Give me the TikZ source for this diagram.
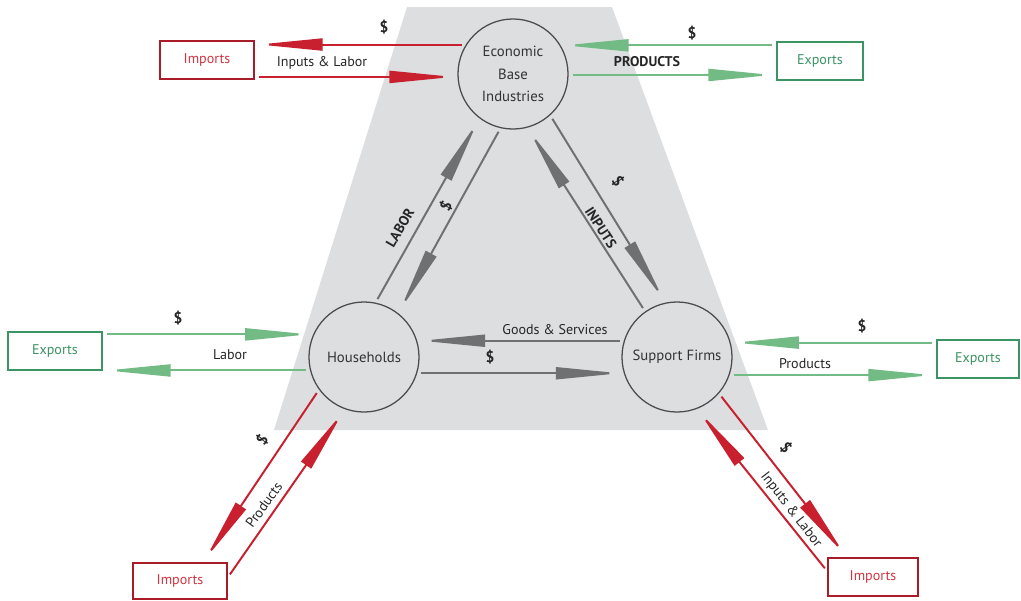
\documentclass[tikz,border=0pt]{standalone}
\usepackage{fontspec}
\setmainfont{PT Sans}
\usetikzlibrary{arrows.meta}

\definecolor{flowred}{HTML}{C8202F}
\definecolor{flowgreen}{HTML}{72BB84}
\definecolor{boxgreen}{HTML}{3C9464}
\definecolor{flowgray}{HTML}{6F7072}
\definecolor{basegray}{HTML}{DCDEE0}

\tikzstyle{hub} = [circle, draw=black!70, line width=0.9pt, minimum size=2.75cm, inner sep=0pt, align=center, text=black!80, font=\fontsize{10.5}{16}\selectfont]
\tikzstyle{box} = [rectangle, fill=white, line width=0.9pt, minimum width=2.35cm, minimum height=0.95cm, inner sep=0pt]
\tikzstyle{redbox} = [box, draw=flowred!85!black, text=flowred!90]
\tikzstyle{greenbox} = [box, draw=boxgreen, text=boxgreen]
\tikzstyle{flow} = [line width=1.4pt, shorten >=0.1cm, shorten <=0.1cm, -{Triangle[length=1.6cm,width=0.3cm]}]
\tikzstyle{redflow} = [flow, color=flowred]
\tikzstyle{greenflow} = [flow, color=flowgreen]
\tikzstyle{grayflow} = [flow, color=flowgray]
\tikzstyle{lbl} = [text=black!85, inner sep=1pt]
\tikzstyle{dollar} = [lbl, font=\fontsize{11}{12}\selectfont\bfseries]

\begin{document}
\begin{tikzpicture}[x=0.025cm, y=-0.025cm, font=\fontsize{10}{12}\selectfont]
      \useasboundingbox (0,0) rectangle (1021,600);
      \fill[basegray] (407,7) -- (612,7) -- (768,430) -- (274,430) -- cycle;

      \node[hub] (ebi) at (513,74) {Economic\\Base\\Industries};
      \node[hub] (hh) at (364,357) {Households};
      \node[hub] (sf) at (677,357) {Support Firms};

      \node[redbox] (imtl) at (207,60) {Imports};
      \node[greenbox, minimum width=2.15cm] (extr) at (820,61) {Exports};
      \node[greenbox] (exl) at (55,351) {Exports};
      \node[greenbox, minimum width=2.05cm] (exr) at (978,359) {Exports};
      \node[redbox, minimum height=0.9cm] (imbl) at (180,581) {Imports};
      \node[redbox, minimum width=2.25cm] (imbr) at (873,577) {Imports};

      % economic base and the outside
      \draw[redflow] (ebi.148) -- (ebi.148 -| imtl.east);
      \draw[redflow] (imtl.east |- ebi.183) -- (ebi.183);
      \draw[greenflow] (ebi.31 -| extr.west) -- (ebi.31);
      \draw[greenflow] (ebi.-1) -- (ebi.-1 -| extr.west);
      \node[dollar] (d1) at (384,27) {\$};
      \node[lbl] (t1) at (322,63) {Inputs \& Labor};
      \node[dollar] (d2) at (692,33) {\$};
      \node[lbl, font=\fontsize{10}{12}\selectfont\bfseries] (t2) at (647,62) {PRODUCTS};

      % households and support firms
      \draw[greenflow] (exl.east |- hh.156) -- (hh.156);
      \draw[greenflow] (hh.194) -- (hh.194 -| exl.east);
      \draw[grayflow] (sf.163) -- (hh.17);
      \draw[grayflow] (hh.-17) -- (sf.197);
      \draw[greenflow] (exr.west |- sf.15) -- (sf.15);
      \draw[greenflow] (sf.-19) -- (sf.-19 -| exr.west);
      \node[dollar] (d3) at (178,318) {\$};
      \node[lbl] (t3) at (230,355) {Labor};
      \node[lbl] (t4) at (555,330) {Goods \& Services};
      \node[dollar] (d4) at (490,357) {\$};
      \node[dollar] (d5) at (862,326) {\$};
      \node[lbl] (t5) at (805,364) {Products};

      % triangle
      \draw[grayflow] (hh.78) -- (ebi.233);
      \draw[grayflow] (ebi.257) -- (hh.52);
      \draw[grayflow] (sf.125) -- (ebi.285);
      \draw[grayflow] (ebi.312) -- (sf.102);
      \node[lbl, rotate=60, font=\fontsize{10}{12}\selectfont\bfseries] (t6) at (400,228) {LABOR};
      \node[dollar, rotate=60] (d6) at (446,206) {\$};
      \node[lbl, rotate=-57, font=\fontsize{10}{12}\selectfont\bfseries] (t7) at (601,228) {INPUTS};
      \node[dollar, rotate=-57] (d7) at (618,181) {\$};

      % imports below
      \draw[redflow] (hh.216) -- (imbl.39);
      \draw[redflow] (imbl.4) -- (hh.250);
      \draw[redflow] (imbr.173) -- (sf.291);
      \draw[redflow] (sf.319) -- (imbr.143);
      \node[dollar, rotate=54] (d8) at (262,440) {\$};
      \node[lbl, rotate=54] (t8) at (264,505) {Products};
      \node[dollar, rotate=-52] (d9) at (786,448) {\$};
      \node[lbl, rotate=-52] (t9) at (791,510) {Inputs \& Labor};
    \end{tikzpicture}
\end{document}
